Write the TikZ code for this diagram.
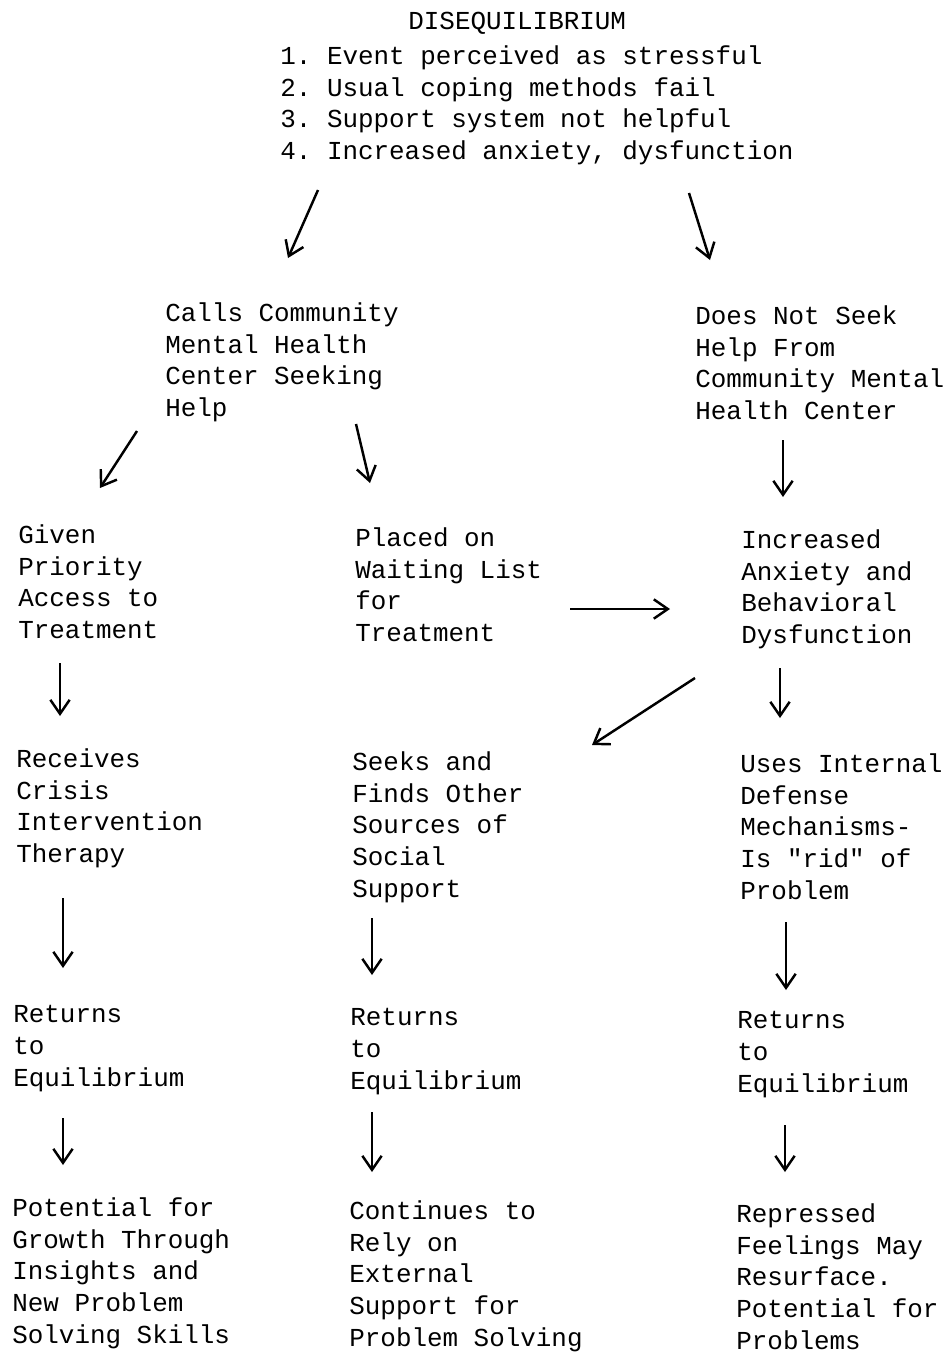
\documentclass[tikz,border=0pt]{standalone}
\usepackage{fontspec}
\setmonofont{Liberation Mono}
\usepackage{tikz}
\usetikzlibrary{arrows.meta}
\newcommand{\typew}{\ttfamily\fontsize{14.75}{18.14}\selectfont}
\tikzset{
  txt/.style={anchor=north west,inner sep=0pt,align=left,font=\typew},
  arr/.style={-{Straight Barb[length=8pt,width=11pt]},line width=1.4pt},
}

\begin{document}
\begin{tikzpicture}[x=0.02cm,y=-0.02cm]
        \useasboundingbox (0,0) rectangle (950,1353);
        \node (title) at (408,12) [txt] {DISEQUILIBRIUM};
        \node (causes) at (280,45) [txt] {1. Event perceived as stressful\\2. Usual coping methods fail\\3. Support system not helpful\\4. Increased anxiety, dysfunction};
        \node (calls) at (165,302) [txt] {Calls Community\\Mental Health\\Center Seeking\\Help};
        \node (noseek) at (695,305) [txt] {Does Not Seek\\Help From\\Community Mental\\Health Center};
        \node (priority) at (18,524) [txt] {Given\\Priority\\Access to\\Treatment};
        \node (waiting) at (355,527) [txt] {Placed on\\Waiting List\\for\\Treatment};
        \node (anxiety) at (741,529) [txt] {Increased\\Anxiety and\\Behavioral\\Dysfunction};
        \node (crisis) at (16,748) [txt] {Receives\\Crisis\\Intervention\\Therapy};
        \node (seeks) at (352,751) [txt] {Seeks and\\Finds Other\\Sources of\\Social\\Support};
        \node (defense) at (740,753) [txt] {Uses Internal\\Defense\\Mechanisms-\\Is "rid" of\\Problem};
        \node (ret1) at (13,1005) [txt] {Returns\\to\\Equilibrium};
        \node (ret2) at (350,1008) [txt] {Returns\\to\\Equilibrium};
        \node (ret3) at (737,1011) [txt] {Returns\\to\\Equilibrium};
        \node (growth) at (12,1197) [txt] {Potential for\\Growth Through\\Insights and\\New Problem\\Solving Skills};
        \node (rely) at (349,1200) [txt] {Continues to\\Rely on\\External\\Support for\\Problem Solving};
        \node (repress) at (736,1203) [txt] {Repressed\\Feelings May\\Resurface.\\Potential for\\Problems};
        \draw [arr] ([shift={(38,145)}]causes.north west) -- ([shift={(123,-44)}]calls.north west);
        \draw [arr] ([shift={(409,148)}]causes.north west) -- ([shift={(15,-45)}]noseek.north west);
        \draw [arr] ([shift={(-28,129)}]calls.north west) -- ([shift={(82,-36)}]priority.north west);
        \draw [arr] ([shift={(191,122)}]calls.north west) -- ([shift={(15,-44)}]waiting.north west);
        \draw [arr] ([shift={(88,135)}]noseek.north west) -- ([shift={(42,-32)}]anxiety.north west);
        \draw [arr] ([shift={(215,82)}]waiting.north west) -- ([shift={(-71,80)}]anxiety.north west);
        \draw [arr] ([shift={(-46,149)}]anxiety.north west) -- ([shift={(240,-6)}]seeks.north west);
        \draw [arr] ([shift={(42,139)}]priority.north west) -- ([shift={(44,-32)}]crisis.north west);
        \draw [arr] ([shift={(39,139)}]anxiety.north west) -- ([shift={(40,-35)}]defense.north west);
        \draw [arr] ([shift={(47,150)}]crisis.north west) -- ([shift={(50,-37)}]ret1.north west);
        \draw [arr] ([shift={(20,167)}]seeks.north west) -- ([shift={(22,-33)}]ret2.north west);
        \draw [arr] ([shift={(46,169)}]defense.north west) -- ([shift={(49,-21)}]ret3.north west);
        \draw [arr] ([shift={(50,113)}]ret1.north west) -- ([shift={(51,-32)}]growth.north west);
        \draw [arr] ([shift={(22,104)}]ret2.north west) -- ([shift={(23,-28)}]rely.north west);
        \draw [arr] ([shift={(48,114)}]ret3.north west) -- ([shift={(49,-31)}]repress.north west);
      \end{tikzpicture}
\end{document}
